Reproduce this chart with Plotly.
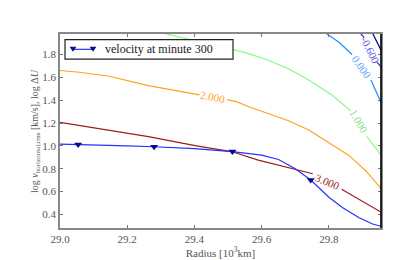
import plotly.graph_objects as go

# ---------------- data ----------------
vel_x = [29.0, 29.054, 29.1, 29.2, 29.28, 29.4, 29.513, 29.6, 29.65, 29.7, 29.746, 29.8, 29.84, 29.89, 29.93, 29.955]
vel_y = [1.015, 1.012, 1.008, 1.0, 0.992, 0.975, 0.95, 0.918, 0.88, 0.80, 0.70, 0.55, 0.46, 0.37, 0.315, 0.295]
marker_idx = [1, 4, 6, 10]

c3_x = [29.0, 29.143, 29.263, 29.406, 29.51, 29.59, 29.68, 29.752, None, 29.838, 29.91, 29.96]
c3_y = [1.205, 1.14, 1.08, 1.0, 0.95, 0.875, 0.81, 0.755, None, 0.62, 0.50, 0.41]

c2_x = [29.0, 29.05, 29.143, 29.263, 29.415, None, 29.497, 29.525, 29.56, 29.68, 29.74, 29.80, 29.86, 29.91, 29.96]
c2_y = [1.66, 1.647, 1.612, 1.527, 1.447, None, 1.405, 1.387, 1.345, 1.22, 1.139, 1.03, 0.916, 0.78, 0.61]

c1_x = [29.25, 29.2925, 29.361, 29.552, 29.612, 29.68, 29.74, 29.809, 29.866, None, 29.913, 29.96]
c1_y = [2.03, 1.998, 1.949, 1.817, 1.759, 1.676, 1.577, 1.445, 1.304, None, 1.08, 0.90]

c0_x = [29.76, 29.785, 29.83, 29.869, None, 29.925, 29.96]
c0_y = [2.05, 1.998, 1.907, 1.80, None, 1.577, 1.35]

cm06_x = [29.88, 29.89, 29.905, None, 29.943, 29.96]
cm06_y = [2.05, 1.998, 1.949, None, 1.734, 1.675]

cm1_x = [29.92, 29.928, 29.96]
cm1_y = [2.05, 1.998, 1.81]

contour_labels = ["3.000", "2.000", "1.000", "0.000", "-0.600"]
label_x = [29.797, 29.455, 29.888, 29.897, 29.923]
label_y = [0.685, 1.426, 1.215, 1.69, 1.84]
label_angle = [22, 11, 60, 55, 63]

x_ticks = [29.0, 29.2, 29.4, 29.6, 29.8]
y_ticks = [0.4, 0.6, 0.8, 1.0, 1.2, 1.4, 1.6, 1.8]
x_range = [29.0, 29.955]
y_range = [0.28, 1.98]

SERIF = "Liberation Serif, Times New Roman, DejaVu Serif, serif"

col3 = "#9b1c1c"
col2 = "#ffa21f"
col1 = "#86f986"
col0 = "#1e8cff"
colm06 = "#2b2bd6"
colm1 = "#000080"
label_cols = [col3, col2, "#7fe67f", "#4da3ff", "#5a5ae6"]
vel_col = "#2233ff"
mk_col = "#0a0a8c"

fig = go.Figure()
for xs, ys, c in [(cm1_x, cm1_y, colm1), (cm06_x, cm06_y, colm06), (c0_x, c0_y, col0),
                  (c1_x, c1_y, col1), (c2_x, c2_y, col2), (c3_x, c3_y, col3)]:
    fig.add_trace(go.Scatter(x=xs, y=ys, mode="lines", line=dict(color=c, width=1.2),
                             connectgaps=False, showlegend=False, hoverinfo="skip"))

fig.add_trace(go.Scatter(x=vel_x, y=vel_y, mode="lines", line=dict(color=vel_col, width=1.2),
                         showlegend=False))
fig.add_trace(go.Scatter(x=[vel_x[i] for i in marker_idx], y=[vel_y[i] for i in marker_idx],
                         mode="markers", marker=dict(symbol="triangle-down", size=7, color=mk_col,
                                                      line=dict(width=0)),
                         showlegend=False))

for t, lx, ly, a, c in zip(contour_labels, label_x, label_y, label_angle, label_cols):
    fig.add_annotation(x=lx, y=ly, text=t, showarrow=False, textangle=a,
                       font=dict(family=SERIF, size=11, color=c))

# custom legend (paper coordinates)
fig.add_shape(type="rect", xref="paper", yref="paper", x0=0.0156, x1=0.539, y0=0.870, y1=0.971,
              line=dict(color="#222", width=1.2), fillcolor="white", layer="above")
fig.add_shape(type="line", xref="paper", yref="paper", x0=0.0405, x1=0.1028, y0=0.921, y1=0.921,
              line=dict(color=vel_col, width=1.2), layer="above")
for px in [0.0405, 0.1028]:
    fig.add_shape(type="path", xref="paper", yref="paper", layer="above",
                  path=f"M {px-0.0105},{0.934} L {px+0.0105},{0.934} L {px},{0.909} Z",
                  fillcolor=mk_col, line=dict(width=0))
fig.add_annotation(xref="paper", yref="paper", x=0.134, y=0.921, xanchor="left", yanchor="middle",
                   text="velocity at minute 300", showarrow=False,
                   font=dict(family=SERIF, size=12, color="#222"))

# y-axis title placed as annotation
fig.add_annotation(xref="paper", yref="paper", x=-0.078, y=0.5, xanchor="center", yanchor="middle",
                   text="log <i>v</i><sub>horizontal,rms</sub> [km/s], log Δ<i>U</i>",
                   textangle=-90, showarrow=False,
                   font=dict(family=SERIF, size=10, color="#555"))

# black right spine
fig.add_shape(type="line", xref="paper", yref="paper", x0=1, x1=1, y0=0, y1=1,
              line=dict(color="black", width=1.6), layer="above")

axis_font = dict(family=SERIF, size=11, color="#555")
fig.update_xaxes(range=x_range, tickvals=x_ticks, ticktext=[f"{v:.1f}" for v in x_ticks],
                 ticks="inside", ticklen=3, tickcolor="#777", showline=True, linecolor="#888",
                 linewidth=1.5, mirror="ticks", showgrid=False, zeroline=False, tickfont=axis_font,
                 title=dict(text="Radius [10<sup>3</sup>km]", standoff=3,
                            font=dict(family=SERIF, size=11, color="#555")))
fig.update_yaxes(range=y_range, tickvals=y_ticks, ticktext=[f"{v:.1f}" for v in y_ticks],
                 ticks="inside", ticklen=3, tickcolor="#777", showline=True, linecolor="#888",
                 linewidth=1.5, mirror="ticks", showgrid=False, zeroline=False, tickfont=axis_font)

fig.update_layout(width=415, height=260, margin=dict(l=52, r=42, t=26, b=27),
                  plot_bgcolor="white", paper_bgcolor="white", showlegend=False,
                  font=dict(family=SERIF))

fig.write_html("out.html")
